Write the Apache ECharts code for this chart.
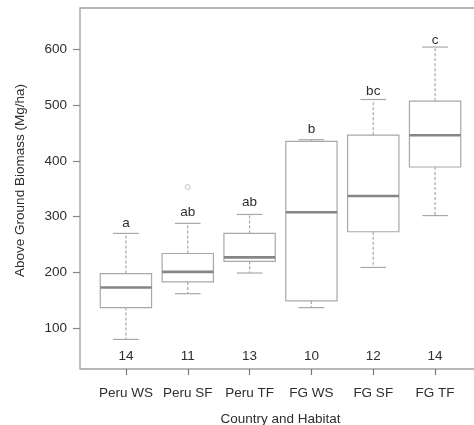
<!DOCTYPE html>
<html>
<head>
<meta charset="utf-8">
<script src="https://cdn.jsdelivr.net/npm/echarts@6/dist/echarts.min.js"></script>
<style>html,body{margin:0;padding:0;background:#fff;}#c{width:474px;height:425px;}</style>
</head>
<body>
<div id="c"></div>
<script>
const categories = ['Peru WS', 'Peru SF', 'Peru TF', 'FG WS', 'FG SF', 'FG TF'];
// [lower whisker, Q1, median, Q3, upper whisker]
const boxMin    = [80, 162, 199, 137, 209, 302];
const boxQ1     = [137, 183, 220, 149, 273, 389];
const boxMedian = [173, 201, 227, 308, 337, 446];
const boxQ3     = [198, 234, 270, 435, 446, 507];
const boxMax    = [270, 288, 304, 438, 510, 604];
const letters   = ['a', 'ab', 'ab', 'b', 'bc', 'c'];
const letterY   = [289, 308, 326, 457, 524, 616];
const counts    = [14, 11, 13, 10, 12, 14];
const outliers  = [[1, 353]]; // [category index, value]
const yTicks    = [100, 200, 300, 400, 500, 600];
const countLevel = 50;

const font = "'Liberation Sans', Arial, sans-serif";
const txt = '#2e2e2e';
const lineC = '#a8a8a8';
const fs = 13.5;

const boxData = categories.map((c, i) => [i, boxMin[i], boxQ1[i], boxMedian[i], boxQ3[i], boxMax[i]]);
const annData = categories.map((c, i) => [i, letterY[i], countLevel]);

const chart = echarts.init(document.getElementById('c'), null, {renderer: 'canvas'});
chart.setOption({
  animation: false,
  backgroundColor: '#fff',
  grid: [
    {left: 95, top: 8, width: 371, height: 361, show: false, outerBoundsMode: 'none', containLabel: false}
  ],
  graphic: [
    {type: 'rect', z: -1, silent: true,
     shape: {x: 80, y: 8, width: 410, height: 361},
     style: {fill: 'none', stroke: '#a0a0a0', lineWidth: 1.3}}
  ],
  xAxis: [
    {type: 'category', data: categories,
     axisLine: {show: false},
     axisTick: {show: true, alignWithLabel: true, length: 6, lineStyle: {color: '#777', width: 1.2}},
     axisLabel: {margin: 17, color: txt, fontFamily: font, fontSize: fs, interval: 0},
     name: 'Country and Habitat', nameLocation: 'middle', nameGap: 43,
     nameTextStyle: {color: txt, fontFamily: font, fontSize: fs}}
  ],
  yAxis: [
    {type: 'value', min: 27, max: 674, offset: 15,
     axisLine: {show: false},
     splitLine: {show: false},
     axisTick: {show: true, length: 7, customValues: yTicks, lineStyle: {color: '#888', width: 1.2}},
     axisLabel: {margin: 13, color: txt, fontFamily: font, fontSize: fs, customValues: yTicks},
     name: 'Above Ground Biomass (Mg/ha)', nameLocation: 'middle', nameGap: 53,
     nameTextStyle: {color: txt, fontFamily: font, fontSize: fs, padding: [0, 0, 0, 16]}}
  ],
  series: [
    {
      type: 'custom',
      data: boxData,
      encode: {x: 0, y: [1, 2, 3, 4, 5]},
      renderItem: function (params, api) {
        const idx = api.value(0);
        const bw = api.size([1, 0])[0];
        const boxW = bw * 0.83;
        const pMin = api.coord([idx, api.value(1)]);
        const pQ1 = api.coord([idx, api.value(2)]);
        const pMed = api.coord([idx, api.value(3)]);
        const pQ3 = api.coord([idx, api.value(4)]);
        const pMax = api.coord([idx, api.value(5)]);
        const x = pMed[0];
        const capHalf = boxW / 4;
        const dash = {stroke: lineC, lineWidth: 1.2, lineDash: [3, 2]};
        const solid = {stroke: lineC, lineWidth: 1.2};
        return {
          type: 'group',
          children: [
            {type: 'line', shape: {x1: x, y1: pQ3[1], x2: x, y2: pMax[1]}, style: dash},
            {type: 'line', shape: {x1: x, y1: pQ1[1], x2: x, y2: pMin[1]}, style: dash},
            {type: 'line', shape: {x1: x - capHalf, y1: pMax[1], x2: x + capHalf, y2: pMax[1]}, style: solid},
            {type: 'line', shape: {x1: x - capHalf, y1: pMin[1], x2: x + capHalf, y2: pMin[1]}, style: solid},
            {type: 'rect', shape: {x: x - boxW / 2, y: pQ3[1], width: boxW, height: pQ1[1] - pQ3[1]},
             style: {fill: '#fff', stroke: lineC, lineWidth: 1.2}},
            {type: 'line', shape: {x1: x - boxW / 2, y1: pMed[1], x2: x + boxW / 2, y2: pMed[1]},
             style: {stroke: '#868686', lineWidth: 2.6}}
          ]
        };
      }
    },
    {
      type: 'scatter',
      data: outliers,
      symbol: 'circle', symbolSize: 5,
      itemStyle: {color: '#fff', borderColor: '#b0b0b0', borderWidth: 1}
    },
    {
      type: 'custom',
      data: annData,
      encode: {x: 0, y: [1, 2]},
      renderItem: function (params, api) {
        const i = params.dataIndex;
        const pL = api.coord([api.value(0), api.value(1)]);
        const pC = api.coord([api.value(0), api.value(2)]);
        return {
          type: 'group',
          children: [
            {type: 'text', x: pL[0], y: pL[1],
             style: {text: letters[i], fill: txt, font: fs + 'px ' + font, align: 'center', verticalAlign: 'middle'}},
            {type: 'text', x: pC[0], y: pC[1],
             style: {text: String(counts[i]), fill: txt, font: fs + 'px ' + font, align: 'center', verticalAlign: 'middle'}}
          ]
        };
      }
    }
  ]
});
</script>
</body>
</html>
